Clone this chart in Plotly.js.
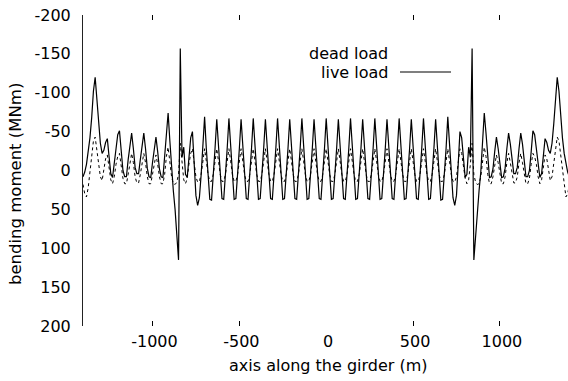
<!DOCTYPE html>
<html>
<head>
<meta charset="utf-8">
<script src="https://cdn.plot.ly/plotly-3.0.1.min.js"></script>
<style>html,body{margin:0;padding:0;background:#fff;}#chart{width:568px;height:381px;}</style>
</head>
<body>
<div id="chart"></div>
<script>
// positions along the girder: start and spacing (m)
const xStart = -1400;
const xStep = 10;

// live load bending moment (MNm), sampled every 10 m from -1400 to 1400
const liveLoad = [
  8, 2, -8, -22, -42, -68, -102, -120, -88, -60,
  -35, -22, -26, -36, -41, -18, 4, 9, -8, -28,
  -46, -51, -24, 0, 8, 8, -14, -34, -48, -28,
  -4, 4, 4, -14, -34, -48, -28, -3, 8, 9,
  -10, -28, -43, -24, -2, 8, 9, -18, -48, -74,
  -38, 2, 26, 50, 82, 115, -157, -17, -30, 5,
  9, -20, -42, -50, -8, 32, 45, 35, 6, -30,
  -69, -28, 8, 37, 38, 8, -28,
  -66, -28, 8, 36, 37, 8, -28,
  -67, -28, 8, 37, 36, 8, -28,
  -66, -28, 8, 36, 37, 8, -28,
  -67, -28, 8, 37, 36, 8, -28,
  -66, -28, 8, 36, 37, 8, -28,
  -67, -28, 8, 37, 36, 8, -28,
  -66, -28, 8, 36, 37, 8, -28,
  -67, -28, 8, 37, 36, 8, -28,
  -66, -28, 8, 36, 37, 8, -28,
  -67, -28, 8, 37, 36, 8, -28,
  -66, -28, 8, 36, 37, 8, -28,
  -67, -28, 8, 37, 36, 8, -28,
  -66, -28, 8, 36, 37, 8, -28,
  -67, -28, 8, 37, 36, 8, -28,
  -66, -28, 8, 36, 37, 8, -28,
  -67, -28, 8, 37, 36, 8, -28,
  -66, -28, 8, 36, 37, 8, -28,
  -67, -28, 8, 37, 36, 8, -28,
  -66, -28, 8, 38, 37, 8, -28,
  -69, -30, 6, 35, 45, 32, -8, -50, -42, -20,
  9, 5, -30, -17, -157, 115, 82, 50, 26, 2,
  -38, -74, -48, -18, 9, 8, -2, -24, -43, -28,
  -10, 9, 8, -3, -28, -48, -34, -14, 4, 4,
  -4, -28, -48, -34, -14, 8, 8, 0, -24, -51,
  -46, -28, -8, 9, 4, -18, -41, -36, -26, -22,
  -35, -60, -88, -120, -102, -68, -42, -22, -8, 2,
  8
];

// dead load bending moment (MNm), same stations
const deadLoad = [
  18, 30, 34, 22, 2, -20, -38, -43, -28, -10,
  8, 13, 0, -15, -20, -5, 12, 17, 8, -8,
  -18, -22, -8, 10, 17, 17, 5, -10, -22, -10,
  8, 16, 16, 5, -10, -22, -10, 8, 17, 17,
  5, -10, -20, -8, 8, 17, 17, 5, -18, -30,
  -12, 8, 17, 18, 15, 5, -35, -8, 12, 17,
  10, -8, -22, -28, -10, 8, 15, 14, 5, -12,
  -28, -12, 5, 14, 14, 5, -12,
  -28, -12, 5, 14, 14, 5, -12,
  -28, -12, 5, 14, 14, 5, -12,
  -28, -12, 5, 14, 14, 5, -12,
  -28, -12, 5, 14, 14, 5, -12,
  -28, -12, 5, 14, 14, 5, -12,
  -28, -12, 5, 14, 14, 5, -12,
  -28, -12, 5, 14, 14, 5, -12,
  -28, -12, 5, 14, 14, 5, -12,
  -28, -12, 5, 14, 14, 5, -12,
  -28, -12, 5, 14, 14, 5, -12,
  -28, -12, 5, 14, 14, 5, -12,
  -28, -12, 5, 14, 14, 5, -12,
  -28, -12, 5, 14, 14, 5, -12,
  -28, -12, 5, 14, 14, 5, -12,
  -28, -12, 5, 14, 14, 5, -12,
  -28, -12, 5, 14, 14, 5, -12,
  -28, -12, 5, 14, 14, 5, -12,
  -28, -12, 5, 14, 14, 5, -12,
  -28, -12, 5, 14, 14, 5, -12,
  -28, -12, 5, 14, 15, 8, -10, -28, -22, -8,
  10, 17, 12, -8, -35, 5, 15, 18, 17, 8,
  -12, -30, -18, 5, 17, 17, 8, -8, -20, -10,
  5, 17, 17, 8, -10, -22, -10, 5, 16, 16,
  8, -10, -22, -10, 5, 17, 17, 10, -8, -22,
  -18, -8, 8, 17, 12, -5, -20, -15, 0, 13,
  8, -10, -28, -43, -38, -20, 2, 22, 34, 30,
  18
];

const xTickVals = [-1000, -500, 0, 500, 1000];
const xTickText = ['-1000', '-500', '0', '500', '1000'];
const xMarkVals = [-1000, -500, 500, 1000];
const yTickVals = [-200, -150, -100, -50, 0, 50, 100, 150, 200];
const yTickText = ['-200', '-150', '-100', '-50', '0', '50', '100', '150', '200'];
const seriesNames = ['dead load', 'live load'];

const FONT = 'DejaVu Sans, Liberation Sans, sans-serif';

const traces = [
  {
    type: 'scatter', mode: 'lines', name: seriesNames[0],
    x0: xStart, dx: xStep, y: deadLoad,
    xaxis: 'x2', yaxis: 'y',
    line: {color: '#000', width: 1, dash: 'dot'},
    showlegend: false, hoverinfo: 'skip'
  },
  {
    type: 'scatter', mode: 'lines', name: seriesNames[1],
    x0: xStart, dx: xStep, y: liveLoad,
    xaxis: 'x', yaxis: 'y',
    line: {color: '#000', width: 1.2},
    showlegend: false, hoverinfo: 'skip'
  }
];

const layout = {
  width: 568, height: 381,
  margin: {l: 83, r: 0, t: 15, b: 55, pad: 0},
  paper_bgcolor: '#fff', plot_bgcolor: '#fff',
  font: {family: FONT, size: 16, color: '#000'},
  showlegend: false,
  xaxis: {
    range: [-1400, 1392], showgrid: false, zeroline: false, showline: false,
    tickmode: 'array', tickvals: xTickVals, ticktext: xTickText,
    ticks: '', ticklabelstandoff: 4, ticklabelshift: 2,
    tickfont: {family: FONT, size: 16, color: '#000'}
  },
  xaxis2: {
    overlaying: 'x', anchor: 'y', range: [-1400, 1392],
    showgrid: false, zeroline: false, showline: false,
    tickmode: 'array', tickvals: xMarkVals, showticklabels: false,
    ticks: 'inside', ticklen: 5, tickwidth: 1, tickcolor: '#000', mirror: 'ticks'
  },
  yaxis: {
    range: [200, -200], showgrid: false, zeroline: false,
    showline: true, linecolor: '#222', linewidth: 1,
    tickmode: 'array', tickvals: yTickVals, ticktext: yTickText,
    ticks: '', ticklabelstandoff: 8,
    tickfont: {family: FONT, size: 16, color: '#000'}
  },
  annotations: [
    {text: 'bending moment (MNm)', xref: 'paper', yref: 'paper',
     x: -0.138, y: 0.4566, xanchor: 'center', yanchor: 'middle', textangle: -90,
     showarrow: false, font: {family: FONT, size: 16.5, color: '#000'}},
    {text: 'axis along the girder (m)', xref: 'paper', yref: 'paper',
     x: 0.506, y: -0.128, xanchor: 'center', yanchor: 'middle',
     showarrow: false, font: {family: FONT, size: 16, color: '#000'}},
    {text: seriesNames[0], xref: 'paper', yref: 'paper',
     x: 0.633, y: 0.8746, xanchor: 'right', yanchor: 'middle',
     showarrow: false, font: {family: FONT, size: 16, color: '#000'}},
    {text: seriesNames[1], xref: 'paper', yref: 'paper',
     x: 0.633, y: 0.8167, xanchor: 'right', yanchor: 'middle',
     showarrow: false, font: {family: FONT, size: 16, color: '#000'}}
  ],
  shapes: [
    {type: 'line', xref: 'paper', yref: 'paper', x0: 0.6536, x1: 0.7588, y0: 0.8167, y1: 0.8167,
     line: {color: '#000', width: 1.1}}
  ]
};

Plotly.newPlot('chart', traces, layout, {staticPlot: true, displayModeBar: false});
</script>
</body>
</html>
